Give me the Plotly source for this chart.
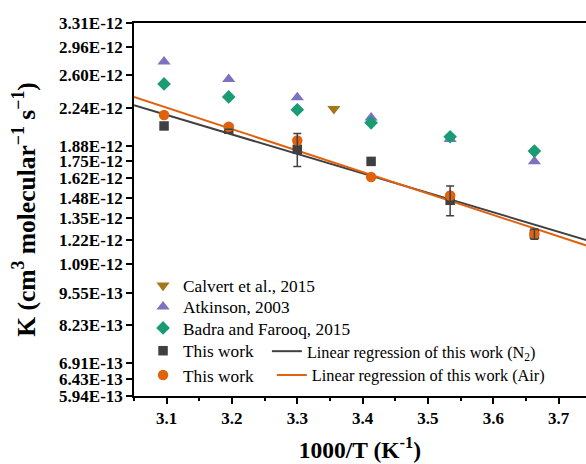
import math
import plotly.graph_objects as go

# 1000/T (K^-1) for 323, 313, 303, 293, 283, 273 K
inv_t = [3.096, 3.195, 3.300, 3.413, 3.534, 3.663]
calvert_x = [3.356]   # 298 K

# rate coefficients, cm3 molecule-1 s-1
calvert_k = [2.23e-12]
atkinson_k = [2.77e-12, 2.555e-12, 2.35e-12, 2.14e-12, 1.94e-12, 1.75e-12]
badra_k = [2.50e-12, 2.355e-12, 2.22e-12, 2.09e-12, 1.96e-12, 1.835e-12]
n2_k = [2.06e-12, 2.03e-12, 1.85e-12, 1.75e-12, 1.463e-12, 1.252e-12]
n2_err = [0.0, 0.0, 0.14e-12, 0.0, 0.10e-12, 0.03e-12]
air_k = [2.166e-12, 2.053e-12, 1.927e-12, 1.629e-12, 1.496e-12, 1.252e-12]

# end points of the two Arrhenius fits
fit_x = [3.05, 3.75]
fit_n2 = [2.266e-12, 1.210e-12]
fit_air = [2.354e-12, 1.179e-12]

y_ticks = [3.31e-12, 2.96e-12, 2.60e-12, 2.24e-12, 1.88e-12, 1.75e-12,
           1.62e-12, 1.48e-12, 1.35e-12, 1.22e-12, 1.09e-12, 9.55e-13,
           8.23e-13, 6.91e-13, 6.43e-13, 5.94e-13]
y_tick_text = ["3.31E-12", "2.96E-12", "2.60E-12", "2.24E-12", "1.88E-12",
               "1.75E-12", "1.62E-12", "1.48E-12", "1.35E-12", "1.22E-12",
               "1.09E-12", "9.55E-13", "8.23E-13", "6.91E-13", "6.43E-13",
               "5.94E-13"]

SERIF = "Liberation Serif, Times New Roman, serif"
GRAY = "#404040"
ORANGE = "#E0620D"

fig = go.Figure()

# regression lines
fig.add_trace(go.Scatter(x=fit_x, y=fit_n2, mode="lines",
                         line=dict(color=GRAY, width=2),
                         name="Linear regression of this work (N<sub>2</sub>)",
                         legend="legend6"))
fig.add_trace(go.Scatter(x=fit_x, y=fit_air, mode="lines",
                         line=dict(color=ORANGE, width=2),
                         name="Linear regression of this work (Air)",
                         legend="legend7"))

# literature and measured points
fig.add_trace(go.Scatter(x=calvert_x, y=calvert_k, mode="markers",
                         marker=dict(symbol="triangle-down", size=11.5, color="#A6761D"),
                         name="Calvert et al., 2015", legend="legend"))
fig.add_trace(go.Scatter(x=inv_t, y=atkinson_k, mode="markers",
                         marker=dict(symbol="triangle-up", size=11.5, color="#7B72C0"),
                         name="Atkinson, 2003", legend="legend2"))
fig.add_trace(go.Scatter(x=inv_t, y=badra_k, mode="markers",
                         marker=dict(symbol="diamond", size=10.5, color="#1A9B74"),
                         name="Badra and Farooq, 2015", legend="legend3"))
fig.add_trace(go.Scatter(x=inv_t, y=n2_k, mode="markers",
                         marker=dict(symbol="square", size=9.5, color=GRAY),
                         name="This work", legend="legend4"))
fig.add_trace(go.Scatter(x=inv_t, y=air_k, mode="markers",
                         marker=dict(symbol="circle", size=10.5, color=ORANGE),
                         name="This work", legend="legend5"))

# N2 error bars, drawn on top of the markers
fig.add_trace(go.Scatter(x=inv_t, y=n2_k, mode="markers",
                         marker=dict(size=1, opacity=0),
                         error_y=dict(type="data", array=n2_err, visible=True,
                                      color=GRAY, thickness=1.5, width=4),
                         showlegend=False, hoverinfo="skip"))


def legend_box(x, y, size):
    return dict(x=x, y=y, xanchor="left", yanchor="top",
                bgcolor="rgba(0,0,0,0)", borderwidth=0,
                font=dict(family=SERIF, size=size, color="black"))


fig.update_layout(
    width=586, height=464,
    margin=dict(l=134, r=0, t=23, b=68),
    paper_bgcolor="white", plot_bgcolor="white",
    font=dict(family=SERIF, color="black"),
    showlegend=True,
    legend=legend_box(0.02, 0.344, 17.3),
    legend2=legend_box(0.02, 0.287, 17.3),
    legend3=legend_box(0.02, 0.230, 17.3),
    legend4=legend_box(0.02, 0.169, 17.3),
    legend5=legend_box(0.02, 0.104, 17.3),
    legend6=legend_box(0.294, 0.166, 16.3),
    legend7=legend_box(0.305, 0.102, 16.3),
)

fig.update_xaxes(
    range=[3.05, 3.742], tick0=3.1, dtick=0.1, tickformat=".1f",
    showgrid=False, zeroline=False,
    showline=True, linecolor="black", linewidth=1.5, mirror=True,
    ticks="outside", ticklen=6, tickwidth=1.5, tickcolor="black",
    minor=dict(dtick=0.05, ticks="outside", ticklen=3, tickwidth=1.5,
               tickcolor="black", showgrid=False),
    tickfont=dict(family=SERIF, size=17, color="black", weight="bold"),
    title=dict(text="1000/T (K<sup>-1</sup>)", standoff=14,
               font=dict(family=SERIF, size=23.5, color="black", weight="bold")),
)

fig.update_yaxes(
    type="log",
    range=[math.log10(y_ticks[-1]), math.log10(y_ticks[0])],
    tickmode="array", tickvals=y_ticks, ticktext=y_tick_text,
    showgrid=False, zeroline=False,
    showline=True, linecolor="black", linewidth=1.5, mirror=False,
    ticks="outside", ticklen=6, tickwidth=1.5, tickcolor="black",
    tickfont=dict(family=SERIF, size=17, color="black", weight="bold"),
    title=dict(text="K (cm<sup>3</sup> molecular<sup>\u22121</sup> s<sup>\u22121</sup>)",
               standoff=16,
               font=dict(family=SERIF, size=25.5, color="black", weight="bold")),
)

fig.write_html("out.html")
